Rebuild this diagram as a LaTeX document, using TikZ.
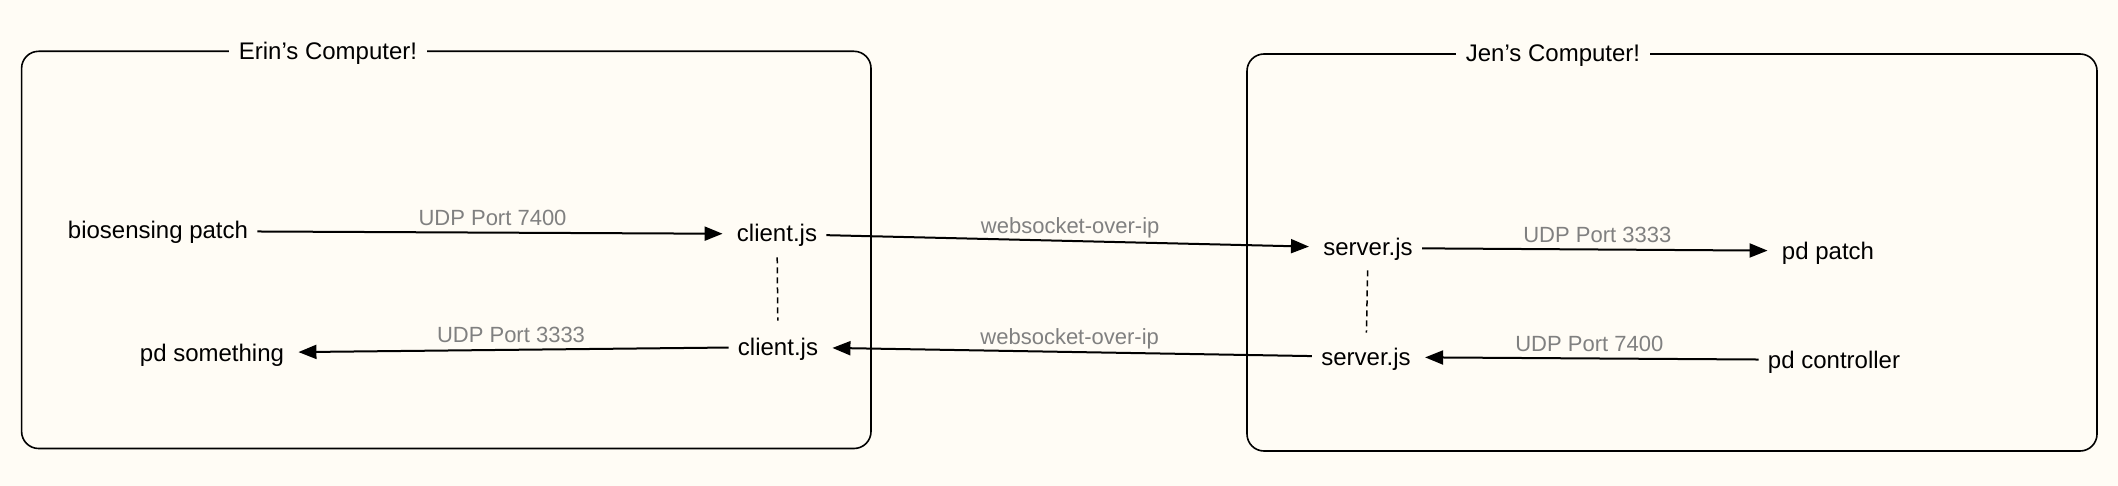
\documentclass[tikz,border=0pt]{standalone}
\usepackage{fontspec}
\setmainfont{Liberation Sans}
\usetikzlibrary{arrows.meta}
\definecolor{bg}{RGB}{255,252,245}
\definecolor{lblgray}{RGB}{128,128,128}
\begin{document}
\begin{tikzpicture}[x=0.5pt,y=-0.5pt,
  txt/.style={font=\fontsize{12pt}{14pt}\selectfont, inner xsep=4.5pt, inner ysep=0pt, text height=9pt, text depth=1pt},
  titlebox/.style={font=\fontsize{12pt}{14pt}\selectfont, fill=bg, inner xsep=5pt, inner ysep=0pt, text height=9pt, text depth=1pt},
  conn/.style={line width=1pt, -{Triangle[length=9pt,width=7pt]}, shorten >=2.5pt},
  port/.style={midway, above=3pt, inner sep=0pt, text depth=0pt, font=\fontsize{11pt}{13pt}\selectfont, text=lblgray},
  comp/.style={draw, line width=0.8pt, rounded corners=8.5pt},
  link/.style={dash pattern=on 3pt off 2pt, line width=0.75pt}
]
\fill[bg] (0,0) rectangle (2118,486);
\useasboundingbox (0,0) rectangle (2118,486);

% computers
\draw[comp] (21.6,51.3) rectangle (871,448.5);
\draw[comp] (1247,54) rectangle (2097,451);
\node[titlebox] (erin) at (328,51.3) {Erin’s Computer!};
\node[titlebox] (jen) at (1553,54) {Jen’s Computer!};

% nodes
\node[txt] (bio) at (158,231) {biosensing patch};
\node[txt] (ctop) at (777,234) {client.js};
\node[txt] (cbot) at (778,347) {client.js};
\node[txt] (pdsome) at (212,353) {pd something};
\node[txt] (stop) at (1368,248) {server.js};
\node[txt] (sbot) at (1366,357) {server.js};
\node[txt] (pdpatch) at (1828,251) {pd patch};
\node[txt] (pdctrl) at (1834,360) {pd controller};

% connectors
\draw[conn] (bio) -- node[port] {UDP Port 7400} (ctop);
\draw[conn] (ctop) -- node[port] {websocket-over-ip} (stop);
\draw[conn] (stop) -- node[port] {UDP Port 3333} (pdpatch);
\draw[conn] (pdctrl) -- node[port] {UDP Port 7400} (sbot);
\draw[conn] (sbot) -- node[port] {websocket-over-ip} (cbot);
\draw[conn] (cbot) -- node[port] {UDP Port 3333} (pdsome);

% dashed links
\draw[link, shorten <=6.5pt, shorten >=8pt] (ctop) -- (cbot);
\draw[link, shorten <=6pt, shorten >=7pt] (stop) -- (sbot);
\end{tikzpicture}
\end{document}
